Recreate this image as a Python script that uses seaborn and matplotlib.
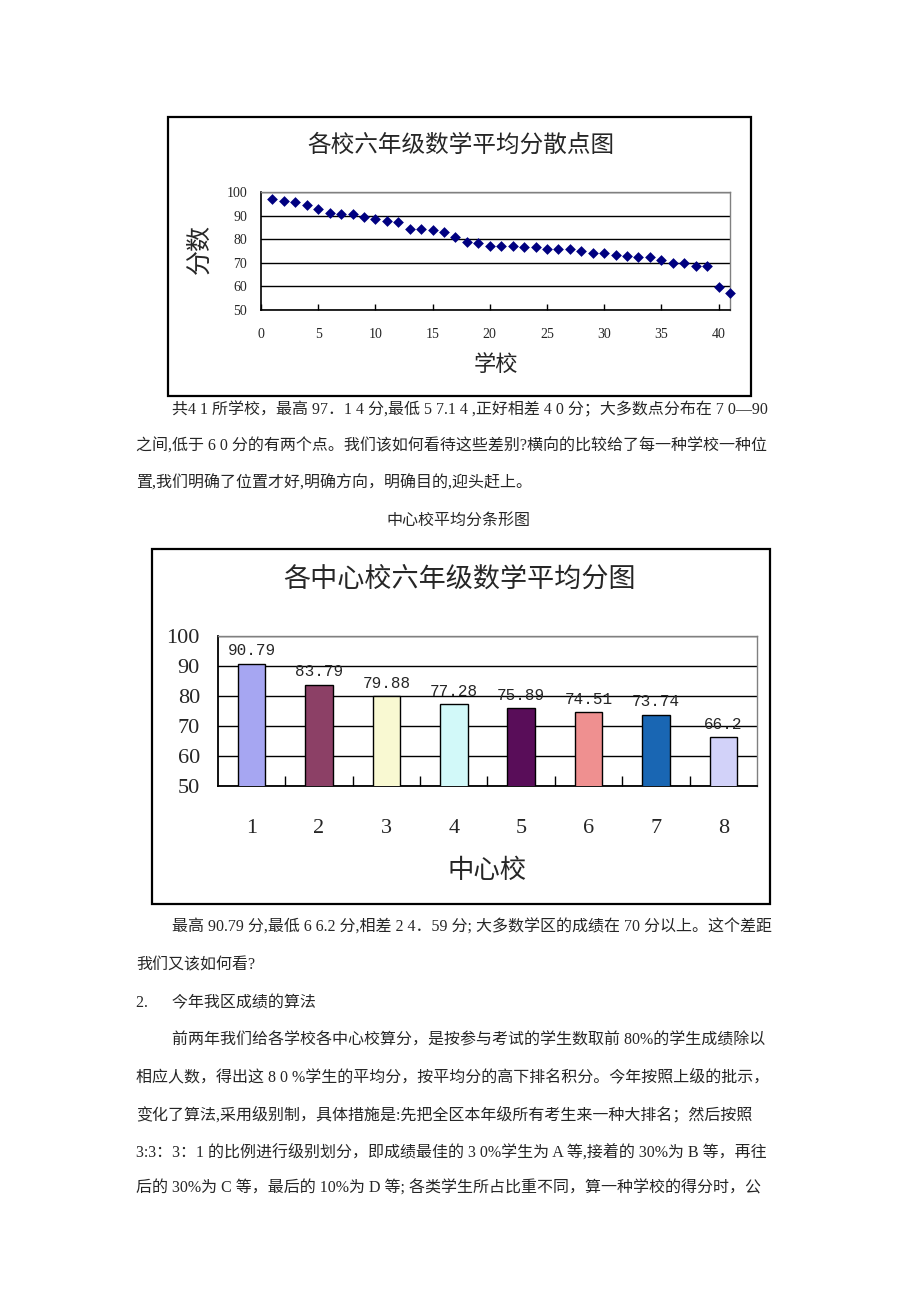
import matplotlib
matplotlib.use("Agg")
import matplotlib.pyplot as plt
from matplotlib.patches import Rectangle
import seaborn as sns
import pandas as pd

# ---------------- data ----------------
schools = list(range(1, 42))
school_scores = [97.14, 96.1, 95.7, 94.3, 92.7, 91.1, 90.7, 90.7, 89.3, 88.7,
                 87.9, 87.3, 84.3, 84.3, 83.7, 83.1, 80.9, 78.9, 78.4, 77.3,
                 77.3, 77.3, 76.9, 76.9, 75.9, 75.9, 75.9, 74.9, 74.0, 74.0,
                 73.4, 72.9, 72.4, 72.4, 71.3, 70.0, 70.0, 68.6, 68.6, 59.7,
                 57.14]
scatter_xticks = [0, 5, 10, 15, 20, 25, 30, 35, 40]
score_ticks = [50, 60, 70, 80, 90, 100]

centers = ["1", "2", "3", "4", "5", "6", "7", "8"]
center_scores = [90.79, 83.79, 79.88, 77.28, 75.89, 74.51, 73.74, 66.2]
center_labels = ["90.79", "83.79", "79.88", "77.28", "75.89", "74.51", "73.74", "66.2"]
bar_colors = ["#9999FF", "#993366", "#FFFFCC", "#CCFFFF",
              "#660066", "#FF8080", "#0066CC", "#CCCCFF"]

title1 = "各校六年级数学平均分散点图"
xlabel1 = "学校"
ylabel1 = "分数"
title2 = "各中心校六年级数学平均分图"
xlabel2 = "中心校"

para1 = [
    "共4 1 所学校，最高 97．1 4 分,最低 5 7.1 4 ,正好相差 4 0 分；大多数点分布在 7 0—90",
    "之间,低于 6 0 分的有两个点。我们该如何看待这些差别?横向的比较给了每一种学校一种位",
    "置,我们明确了位置才好,明确方向，明确目的,迎头赶上。",
]
caption2 = "中心校平均分条形图"
para2 = [
    "最高 90.79 分,最低 6 6.2 分,相差 2 4．59 分; 大多数学区的成绩在 70 分以上。这个差距",
    "我们又该如何看?",
    "2.      今年我区成绩的算法",
    "前两年我们给各学校各中心校算分，是按参与考试的学生数取前 80%的学生成绩除以",
    "相应人数，得出这 8 0 %学生的平均分，按平均分的高下排名积分。今年按照上级的批示，",
    "变化了算法,采用级别制，具体措施是:先把全区本年级所有考生来一种大排名；然后按照",
    "3:3：3：1 的比例进行级别划分，即成绩最佳的 3 0%学生为 A 等,接着的 30%为 B 等，再往",
    "后的 30%为 C 等，最后的 10%为 D 等; 各类学生所占比重不同，算一种学校的得分时，公",
]

# ---------------- setup ----------------
sns.set_theme(style="white")
FAM = ["Liberation Serif", "Noto Sans CJK SC", "DejaVu Sans"]
plt.rcParams["font.family"] = FAM

W, H = 920, 1302
fig = plt.figure(figsize=(W / 100, H / 100), dpi=100)
fig.patch.set_facecolor("white")


def fx(x):
    return x / W


def fy(y):
    return 1 - y / H


def axes_px(l, t, r, b):
    return fig.add_axes([l / W, 1 - b / H, (r - l) / W, (b - t) / H])


# chart frames
for (l, t, r, b) in [(168, 117, 751, 396), (152, 549, 770, 904)]:
    fig.add_artist(Rectangle((fx(l), fy(b)), (r - l) / W, (b - t) / H,
                             transform=fig.transFigure, fill=False,
                             ec="black", lw=1.6))

# ---------------- chart 1 : scatter ----------------
ax1 = axes_px(261, 192, 730, 310)
df1 = pd.DataFrame({"学校": schools, "分数": school_scores})
sns.scatterplot(data=df1, x="学校", y="分数", marker="D", color="#000080",
                s=30, linewidth=0, ax=ax1, zorder=3, clip_on=False)
ax1.set_xlim(0, 41)
ax1.set_ylim(50, 100)
ax1.set_xticks(scatter_xticks)
ax1.set_yticks(score_ticks)
ax1.grid(axis="y", color="black", lw=1)
ax1.grid(axis="x", visible=False)
ax1.set_axisbelow(True)
for s in ["left", "bottom"]:
    ax1.spines[s].set_color("black")
    ax1.spines[s].set_linewidth(1.2)
for s in ["top", "right"]:
    ax1.spines[s].set_color("#808080")
    ax1.spines[s].set_linewidth(1.0)
ax1.tick_params(axis="x", direction="in", length=4, width=1, color="black",
                pad=13, labelsize=10, bottom=True)
ax1.tick_params(axis="y", length=0, pad=10, labelsize=10)
ax1.set_xlabel("")
ax1.set_ylabel("")

fig.text(fx(461), fy(145), title1, ha="center", va="center", fontsize=17)
fig.text(fx(496), fy(365), xlabel1, ha="center", va="center", fontsize=16)
fig.text(fx(200), fy(249), ylabel1, ha="center", va="center", fontsize=18,
         rotation=90)

# ---------------- chart 2 : bars ----------------
ax2 = axes_px(218, 636, 757, 786)
df2 = pd.DataFrame({"中心校": centers, "平均分": center_scores})
sns.barplot(data=df2, x="中心校", y="平均分", hue="中心校", palette=bar_colors,
            legend=False, width=0.41, edgecolor="black", linewidth=1.0,
            ax=ax2, zorder=3)
ax2.set_ylim(50, 100)
ax2.set_xlim(-0.5, 7.5)
ax2.set_yticks(score_ticks)
ax2.grid(axis="y", color="black", lw=1)
ax2.grid(axis="x", visible=False)
ax2.set_axisbelow(True)
for s in ["left", "bottom"]:
    ax2.spines[s].set_color("black")
    ax2.spines[s].set_linewidth(1.3)
for s in ["top", "right"]:
    ax2.spines[s].set_color("#808080")
    ax2.spines[s].set_linewidth(1.0)
ax2.set_xticks(range(len(centers)))
ax2.set_xticklabels(centers)
ax2.set_xticks([i + 0.5 for i in range(len(centers) - 1)], minor=True)
ax2.tick_params(axis="x", which="major", length=0, pad=24, labelsize=16)
ax2.tick_params(axis="x", which="minor", direction="in", length=7, width=1,
                color="black", bottom=True)
ax2.tick_params(axis="y", length=0, pad=13, labelsize=16)
ax2.set_xlabel("")
ax2.set_ylabel("")
for cont, lab in zip(ax2.containers, center_labels):
    ax2.bar_label(cont, labels=[lab], padding=4, fontsize=11.5,
                  family=["Liberation Mono", "DejaVu Sans Mono"])

fig.text(fx(460), fy(580), title2, ha="center", va="center", fontsize=19.5)
fig.text(fx(487), fy(871), xlabel2, ha="center", va="center", fontsize=19)

# ---------------- body text ----------------
BODY = 11.5
starts1 = [172, 136, 136]
ys1 = [410, 447, 484]
for txt, x0, y0 in zip(para1, starts1, ys1):
    fig.text(fx(x0), fy(y0), txt, ha="left", va="center", fontsize=BODY)
fig.text(fx(458), fy(521), caption2, ha="center", va="center", fontsize=BODY)

starts2 = [172, 136, 136, 172, 136, 136, 136, 136]
ys2 = [928, 965, 1003, 1040, 1077, 1115, 1152, 1189]
for txt, x0, y0 in zip(para2, starts2, ys2):
    fig.text(fx(x0), fy(y0), txt, ha="left", va="center", fontsize=BODY)

fig.savefig("out.png", dpi=100, facecolor="white")
